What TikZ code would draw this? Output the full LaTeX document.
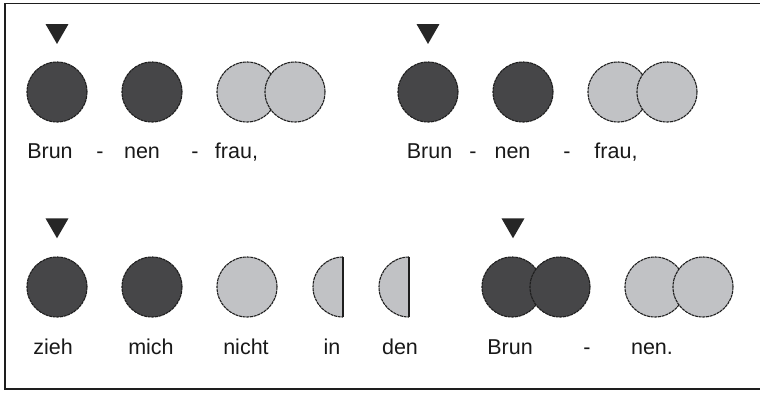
\documentclass[tikz,border=0pt]{standalone}
\usepackage{fontspec}
\setmainfont{Liberation Sans}
\usepackage{tikz}
\usetikzlibrary{shapes.geometric,positioning}
\definecolor{sylDark}{RGB}{70,70,72}
\definecolor{sylLight}{RGB}{193,194,197}
\definecolor{inkGray}{RGB}{30,30,30}
\tikzstyle{syl}   =[circle, draw=inkGray, minimum size=60pt,
                    inner sep=0pt, outer sep=0pt, line width=1.1pt,
                    dash pattern=on 3pt off 0.7pt]
\tikzstyle{heavy} =[syl, fill=sylDark]
\tikzstyle{light} =[syl, fill=sylLight]
\tikzstyle{accent}=[regular polygon, regular polygon sides=3,
                    shape border rotate=180, fill=black!85,
                    minimum size=26.5pt, inner sep=0pt]
\tikzstyle{word}  =[anchor=base, inner sep=0pt,
                    font=\fontsize{21.5}{25}\selectfont, text=black!90]
\tikzstyle{halfsyl}=[fill=sylLight]

\begin{document}
\begin{tikzpicture}[x=1pt,y=-1pt]
\useasboundingbox (0,0) rectangle (760,392);
\fill[white] (0,0) rectangle (760,392);
\draw[line width=1.3pt, draw=inkGray] (5,3.5) rectangle (775,389);

%%%%%%%%%%%%%%%%%%%%%%%%%%%%%%%%%%%%%%%%%%%%%%%%
%%%%%%%%%%        Line 1, left        %%%%%%%%%%
%%%%%%%%%%%%%%%%%%%%%%%%%%%%%%%%%%%%%%%%%%%%%%%%
\begin{scope}
\node (a1) [heavy] at (57,92){};
\node (a2) [heavy] at (152,92){};
\node (a3) [light] at (247,92){};
\node (a4) [light] at (295,92){};
\node (ta) [accent] at (57,30.7){};

\node (wa1) [word] at (50,158){Brun};
\node (da1) [word] at (100,158){-};
\node (wa2) [word] at (142,158){nen};
\node (da2) [word] at (195,158){-};
\node (wa3) [word] at (236.5,158){frau,};
\end{scope}

%%%%%%%%%%%%%%%%%%%%%%%%%%%%%%%%%%%%%%%%%%%%%%%%
%%%%%%%%%%        Line 1, right       %%%%%%%%%%
%%%%%%%%%%%%%%%%%%%%%%%%%%%%%%%%%%%%%%%%%%%%%%%%
\begin{scope}
\node (b1) [heavy] at (428,92){};
\node (b2) [heavy] at (523,92){};
\node (b3) [light] at (618,92){};
\node (b4) [light] at (667,92){};
\node (tb) [accent] at (428,30.7){};

\node (wb1) [word] at (429.5,158){Brun};
\node (db1) [word] at (473,158){-};
\node (wb2) [word] at (512.5,158){nen};
\node (db2) [word] at (567,158){-};
\node (wb3) [word] at (616,158){frau,};
\end{scope}

%%%%%%%%%%%%%%%%%%%%%%%%%%%%%%%%%%%%%%%%%%%%%%%%
%%%%%%%%%%           Line 2           %%%%%%%%%%
%%%%%%%%%%%%%%%%%%%%%%%%%%%%%%%%%%%%%%%%%%%%%%%%
\begin{scope}
\node (c1) [heavy] at (57,287){};
\node (c2) [heavy] at (152,287){};
\node (c3) [light] at (247,287){};
\node (tc) [accent] at (57,225){};

% half syllables: dashed arc, solid flat side
\foreach \x/\n in {343/c4,409/c5}{
	\coordinate (\n) at (\x,287);
	\fill[halfsyl] ([yshift=30pt]\n) arc (90:270:30pt) -- cycle;
	\draw[draw=inkGray, line width=1.1pt, dash pattern=on 3pt off 0.7pt]
		([yshift=30pt]\n) arc (90:270:30pt);
	\draw[draw=inkGray, line width=1.5pt]
		([yshift=30pt]\n) -- ([yshift=-30pt]\n);
}

\node (d1) [heavy] at (512,287){};
\node (d2) [heavy] at (560,287){};
\node (d3) [light] at (655,287){};
\node (d4) [light] at (703,287){};
\node (td) [accent] at (513,225){};

\node (wc1) [word] at (53,354){zieh};
\node (wc2) [word] at (151,354){mich};
\node (wc3) [word] at (246,354){nicht};
\node (wc4) [word] at (332,354){in};
\node (wc5) [word] at (400,354){den};
\node (wd1) [word] at (510,354){Brun};
\node (dd1) [word] at (587,354){-};
\node (wd2) [word] at (652,354){nen.};
\end{scope}

\end{tikzpicture}
\end{document}
